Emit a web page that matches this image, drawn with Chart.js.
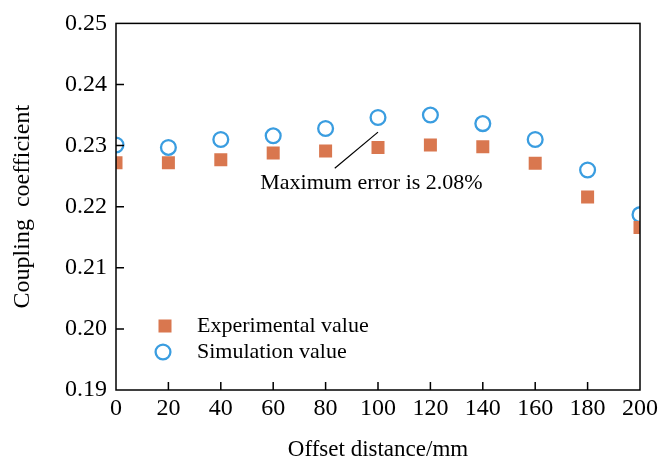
<!DOCTYPE html>
<html lang="en">
<head>
    <meta charset="UTF-8">
    <title>Coupling coefficient vs offset distance</title>
    <script src="https://cdn.jsdelivr.net/npm/chart.js"></script>
    <style>
body {
    margin: 0;
    background: #fff;
}

.wrap {
    width: 662px;
    height: 459px;
    position: relative;
}
    </style>
</head>
<body>
    <div class="wrap">
        <canvas id="couplingChart"></canvas>
    </div>
    <script>
// data
const offsets = [0, 20, 40, 60, 80, 100, 120, 140, 160, 180, 200];
const experimental = [0.2272, 0.2272, 0.2277, 0.2288, 0.2291, 0.2297, 0.2301, 0.2298, 0.2271, 0.2216, 0.2166];
const simulation = [0.2301, 0.2297, 0.2310, 0.2316, 0.2328, 0.2346, 0.2350, 0.2336, 0.2310, 0.2260, 0.2187];
const yTicks = [0.19, 0.20, 0.21, 0.22, 0.23, 0.24, 0.25];
const noteText = 'Maximum error is 2.08%';

const serif = '"Liberation Serif", "Times New Roman", serif';
const orange = '#d9774f';
const blue = '#3a9de0';

// box around the plot with inward ticks
const framePlugin = {
    id: 'frame',
    afterDraw(chart) {
        const ctx = chart.ctx;
        const a = chart.chartArea;
        const xs = chart.scales.x;
        const ys = chart.scales.y;
        ctx.save();
        ctx.strokeStyle = '#000';
        ctx.lineWidth = 1.5;
        ctx.strokeRect(a.left, a.top, a.right - a.left, a.bottom - a.top);
        ctx.beginPath();
        xs.ticks.forEach(t => {
            const px = xs.getPixelForValue(t.value);
            if (t.value > xs.min && t.value < xs.max) {
                ctx.moveTo(px, a.bottom);
                ctx.lineTo(px, a.bottom - 8);
            }
        });
        ys.ticks.forEach(t => {
            const py = ys.getPixelForValue(t.value);
            if (t.value > ys.min + 1e-9 && t.value < ys.max - 1e-9) {
                ctx.moveTo(a.left, py);
                ctx.lineTo(a.left + 8, py);
            }
        });
        ctx.stroke();
        ctx.restore();
    }
};

// pointer line and text for the maximum error
const notePlugin = {
    id: 'note',
    afterDatasetsDraw(chart) {
        const ctx = chart.ctx;
        const xs = chart.scales.x;
        const ys = chart.scales.y;
        ctx.save();
        ctx.strokeStyle = '#000';
        ctx.lineWidth = 1.2;
        ctx.beginPath();
        ctx.moveTo(xs.getPixelForValue(100), ys.getPixelForValue(0.2322));
        ctx.lineTo(xs.getPixelForValue(83.5), ys.getPixelForValue(0.2263));
        ctx.stroke();
        ctx.fillStyle = '#000';
        ctx.font = '22px ' + serif;
        ctx.textAlign = 'center';
        ctx.textBaseline = 'middle';
        ctx.fillText(noteText, xs.getPixelForValue(97.5), ys.getPixelForValue(0.2239));
        ctx.restore();
    }
};

// legend inside the plot, lower left
const innerLegend = {
    id: 'innerLegend',
    afterDraw(chart) {
        const ctx = chart.ctx;
        const rows = [[165, 326], [163, 352]];
        ctx.save();
        chart.data.datasets.forEach((ds, i) => {
            const [x, y] = rows[i];
            ctx.fillStyle = ds.backgroundColor;
            ctx.strokeStyle = ds.borderColor;
            ctx.lineWidth = ds.borderWidth;
            ctx.beginPath();
            if (ds.pointStyle === 'rect') {
                const s = ds.pointRadius * Math.SQRT1_2;
                ctx.rect(x - s, y - s, 2 * s, 2 * s);
                ctx.fill();
            } else {
                ctx.arc(x, y, ds.pointRadius, 0, Math.PI * 2);
                ctx.stroke();
            }
            ctx.fillStyle = '#000';
            ctx.font = '22px ' + serif;
            ctx.textAlign = 'left';
            ctx.textBaseline = 'middle';
            ctx.fillText(ds.label, 197, y);
        });
        ctx.restore();
    }
};

const ctx = document.getElementById('couplingChart').getContext('2d');
const couplingChart = new Chart(ctx, {
    type: 'scatter',
    data: {
        datasets: [{
            label: 'Experimental value',
            data: offsets.map((x, i) => ({ x: x, y: experimental[i] })),
            pointStyle: 'rect',
            pointRadius: 9.2,
            pointHoverRadius: 9.2,
            backgroundColor: orange,
            borderColor: orange,
            borderWidth: 0,
            clip: 0
        }, {
            label: 'Simulation value',
            data: offsets.map((x, i) => ({ x: x, y: simulation[i] })),
            pointStyle: 'circle',
            pointRadius: 7.4,
            pointHoverRadius: 7.4,
            backgroundColor: 'rgba(255,255,255,0)',
            borderColor: blue,
            borderWidth: 2.3,
            clip: 0
        }]
    },
    options: {
        responsive: true,
        maintainAspectRatio: false,
        animation: false,
        layout: {
            padding: { left: 0, right: 22, top: 21, bottom: 0 }
        },
        plugins: {
            legend: { display: false },
            tooltip: { enabled: false }
        },
        scales: {
            x: {
                type: 'linear',
                min: 0,
                max: 200,
                ticks: {
                    stepSize: 20,
                    padding: 4,
                    color: '#000',
                    font: { family: serif, size: 24 }
                },
                grid: { display: false, drawTicks: false },
                border: { display: false },
                title: {
                    display: true,
                    text: 'Offset distance/mm',
                    color: '#000',
                    font: { family: serif, size: 23, lineHeight: 0.8 },
                    padding: 0
                },
                afterFit(scale) {
                    scale.height = 69;
                }
            },
            y: {
                type: 'linear',
                min: yTicks[0],
                max: yTicks[yTicks.length - 1],
                afterBuildTicks(scale) {
                    scale.ticks = yTicks.map(v => ({ value: v }));
                },
                ticks: {
                    padding: 9,
                    color: '#000',
                    font: { family: serif, size: 24 },
                    callback: v => v.toFixed(2)
                },
                grid: { display: false, drawTicks: false },
                border: { display: false },
                title: {
                    display: true,
                    text: 'Coupling  coefficient',
                    color: '#000',
                    font: { family: serif, size: 24, lineHeight: 1 },
                    padding: { top: 11, bottom: 0 }
                },
                afterFit(scale) {
                    scale.width = 116;
                }
            }
        }
    },
    plugins: [framePlugin, notePlugin, innerLegend]
});
    </script>
</body>
</html>
